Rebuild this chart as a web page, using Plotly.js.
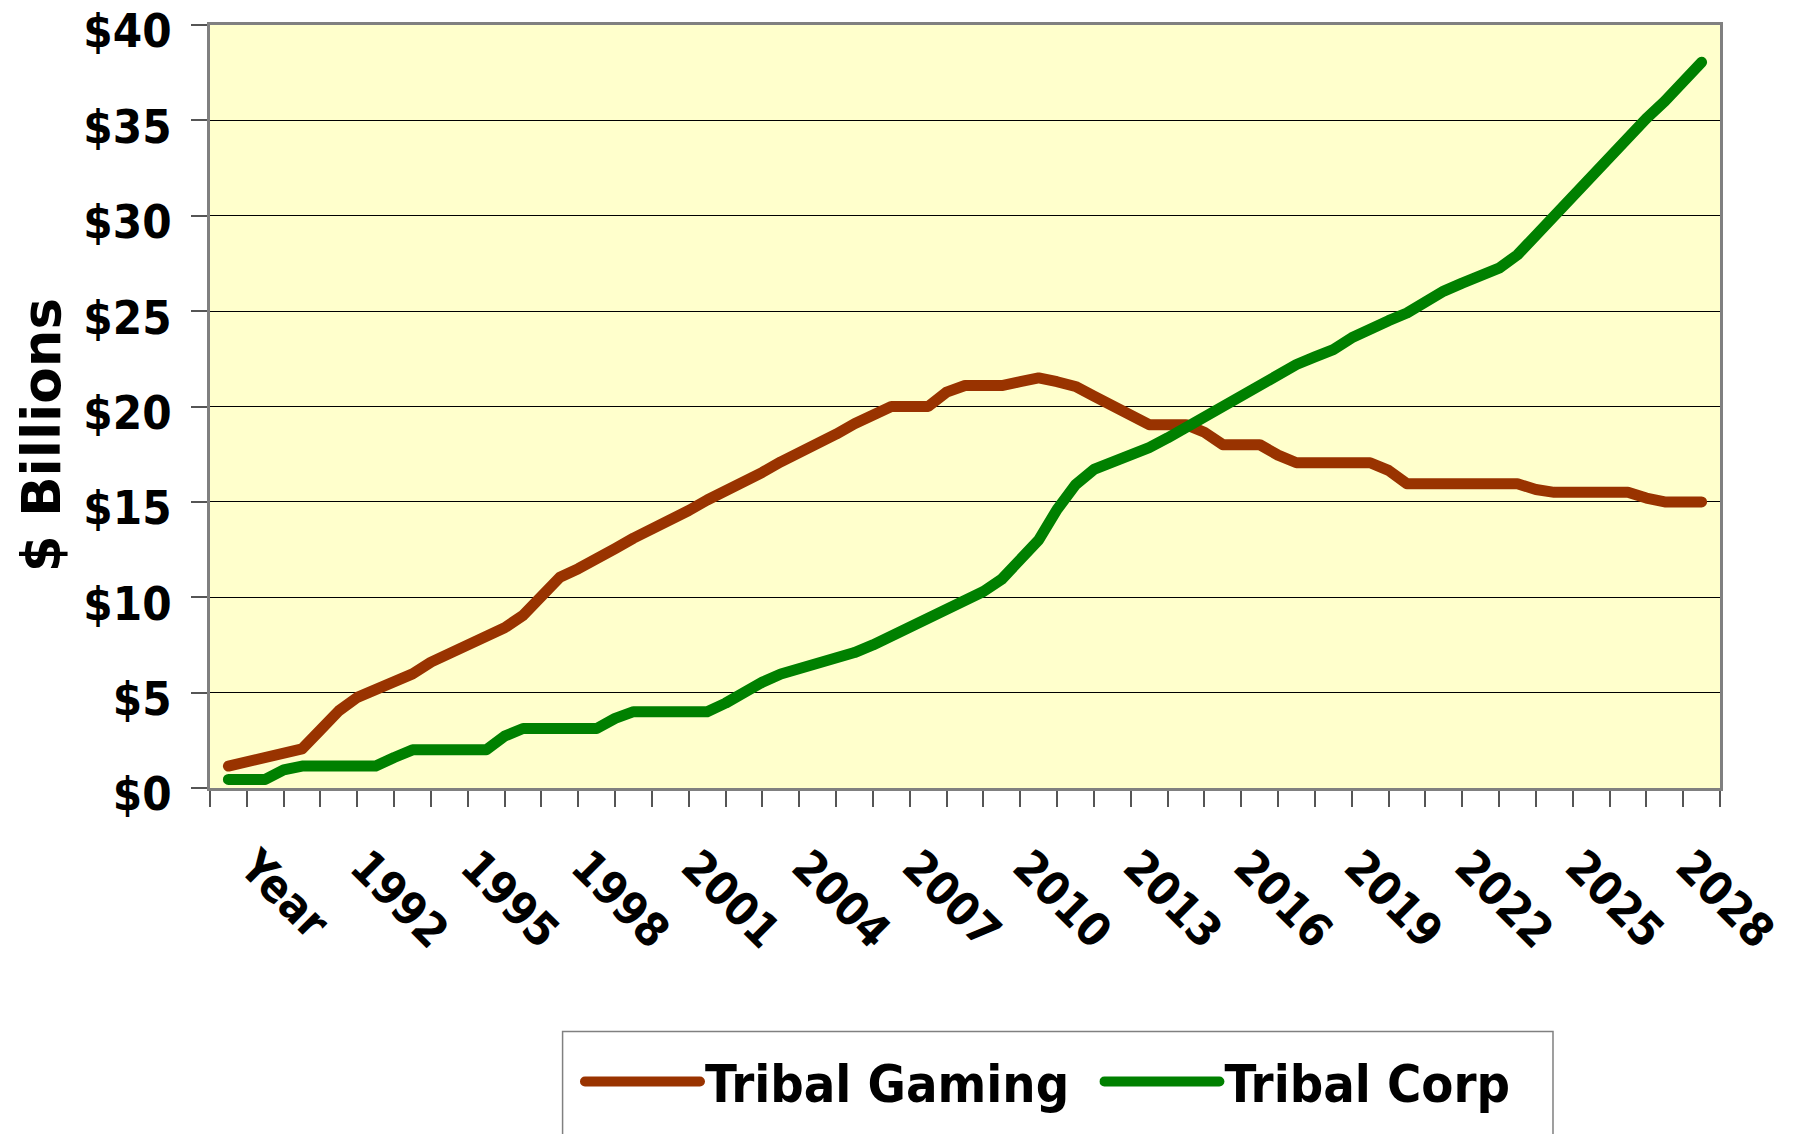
<!DOCTYPE html>
<html><head><meta charset="utf-8">
<script src="https://cdn.plot.ly/plotly-3.0.1.min.js"></script>
<style>html,body{margin:0;padding:0;background:#fff;} #chart{width:1804px;height:1134px;}</style>
</head><body><div id="chart"></div>
<script>
// x positions (half-year steps; the first category is the "Year" header column)
const years = [1989,1989.5,1990,1990.5,1991,1991.5,1992,1992.5,1993,1993.5,1994,1994.5,1995,1995.5,1996,1996.5,1997,1997.5,1998,1998.5,1999,1999.5,2000,2000.5,2001,2001.5,2002,2002.5,2003,2003.5,2004,2004.5,2005,2005.5,2006,2006.5,2007,2007.5,2008,2008.5,2009,2009.5,2010,2010.5,2011,2011.5,2012,2012.5,2013,2013.5,2014,2014.5,2015,2015.5,2016,2016.5,2017,2017.5,2018,2018.5,2019,2019.5,2020,2020.5,2021,2021.5,2022,2022.5,2023,2023.5,2024,2024.5,2025,2025.5,2026,2026.5,2027,2027.5,2028,2028.5,2029];

const tribalGaming = [1.15,1.38,1.62,1.86,2.05,3.05,4.05,4.75,5.15,5.55,5.98,6.6,7.05,7.5,7.96,8.4,9.05,10.15,11.05,11.5,11.97,12.55,13.1,13.55,14.0,14.55,15.1,15.55,16.0,16.55,17.1,17.55,18.0,18.55,19.1,19.55,20.0,20.0,20.0,20.75,21.1,21.1,21.1,21.3,21.5,21.3,21.05,20.55,20.0,19.5,19.05,19.05,19.05,18.65,18.0,18.0,18.0,17.45,17.05,17.05,17.05,17.05,17.05,16.65,15.95,15.95,15.95,15.95,15.95,15.95,15.95,15.65,15.5,15.5,15.5,15.5,15.5,15.2,15.0,15.0,15.0];

const tribalCorp = [0.45,0.45,0.45,0.95,1.15,1.15,1.15,1.15,1.15,1.6,2.0,2.0,2.0,2.0,2.0,2.72,3.12,3.12,3.12,3.12,3.12,3.65,4.0,4.0,4.0,4.0,4.0,4.45,5.08,5.55,5.98,6.25,6.5,6.8,7.1,7.5,7.96,8.5,9.0,9.45,9.85,10.3,10.95,12.0,13.0,14.6,15.9,16.7,17.05,17.45,17.85,18.35,18.9,19.4,20.0,20.55,21.1,21.7,22.2,22.6,22.98,23.6,24.1,24.5,24.9,25.55,26.05,26.47,26.9,27.25,27.95,29.0,30.05,31.08,32.0,33.05,34.1,35.1,36.0,37.05,38.05];

const tickYears = [1989,1992,1995,1998,2001,2004,2007,2010,2013,2016,2019,2022,2025,2028];
const tickLabels = ['Year','1992','1995','1998','2001','2004','2007','2010','2013','2016','2019','2022','2025','2028'];
const yTickVals = [0, 5, 10, 15, 20, 25, 30, 35, 40];
const yTickLabels = ['$0','$5','$10','$15','$20','$25','$30','$35','$40'];
const seriesNames = ['Tribal Gaming','Tribal Corp'];
const yTitle = '$ Billions';

const COND = '"DejaVu Sans Condensed", "DejaVu Sans", sans-serif';
const BOLD = '"DejaVu Sans", sans-serif';

const traces = [
  {x: years, y: tribalGaming, name: seriesNames[0], type: 'scatter', mode: 'lines',
   line: {color: '#993300', width: 11}, legend: 'legend', hoverinfo: 'skip'},
  {x: years, y: tribalCorp, name: seriesNames[1], type: 'scatter', mode: 'lines',
   line: {color: '#008000', width: 11}, legend: 'legend2', hoverinfo: 'skip'}
];

const legendFont = {family: COND, size: 52, color: '#000', weight: 'bold'};
const xTickFont = {family: COND, size: 46, color: '#000', weight: 'bold'};
const yTickFont = {family: COND, size: 47, color: '#000', weight: 'bold'};

const layout = {
  width: 1804, height: 1134,
  margin: {l: 210, r: 84, t: 25, b: 344, pad: 0},
  paper_bgcolor: '#ffffff', plot_bgcolor: '#FFFFCC',
  showlegend: true,
  xaxis: {
    range: [1988.5, 2029.5], tickmode: 'array', tickvals: tickYears, ticktext: tickLabels,
    tickangle: 45, ticks: '', showgrid: false, zeroline: false,
    showline: true, linecolor: '#808080', linewidth: 3, mirror: true,
    tickfont: xTickFont, ticklabelstandoff: 30, ticklabelshift: 25,
    minor: {tickmode: 'linear', tick0: 1988.5, dtick: 1, ticks: 'outside', ticklen: 16,
            tickcolor: '#555555', tickwidth: 2, showgrid: false}
  },
  yaxis: {
    range: [0, 40.0005], tickmode: 'array', tickvals: yTickVals, ticktext: yTickLabels,
    ticklabeloverflow: 'allow',
    ticks: 'outside', ticklen: 16, tickcolor: '#555555', tickwidth: 2,
    showgrid: true, gridcolor: '#000000', gridwidth: 1, zeroline: false,
    showline: true, linecolor: '#808080', linewidth: 3, mirror: true,
    tickfont: yTickFont, ticklabelstandoff: 10, ticklabelshift: 6
  },
  legend: {orientation: 'h', x: 0.245, y: -0.385, xanchor: 'left', yanchor: 'middle',
           font: legendFont, bgcolor: 'rgba(0,0,0,0)', borderwidth: 0, itemwidth: 115},
  legend2: {orientation: 'h', x: 0.589, y: -0.385, xanchor: 'left', yanchor: 'middle',
           font: legendFont, bgcolor: 'rgba(0,0,0,0)', borderwidth: 0, itemwidth: 115},
  annotations: [{
    text: yTitle, textangle: -90, xref: 'paper', yref: 'paper', x: -0.1115, y: 0.462,
    xanchor: 'center', yanchor: 'middle', showarrow: false,
    font: {family: BOLD, size: 53, color: '#000', weight: 'bold'}
  }],
  shapes: [{type: 'rect', xref: 'paper', yref: 'paper', x0: 0.2335, x1: 0.8894, y0: -0.47, y1: -0.319,
            line: {color: '#808080', width: 1.5}, fillcolor: 'rgba(0,0,0,0)', layer: 'above'}]
};

Plotly.newPlot('chart', traces, layout, {staticPlot: true, displayModeBar: false}).then(() => {
  document.querySelectorAll('.scatterlayer path.js-line, .legendlines path').forEach(p => {
    p.style.strokeLinecap = 'round';
    p.style.strokeLinejoin = 'round';
  });
});
</script>
</body></html>
